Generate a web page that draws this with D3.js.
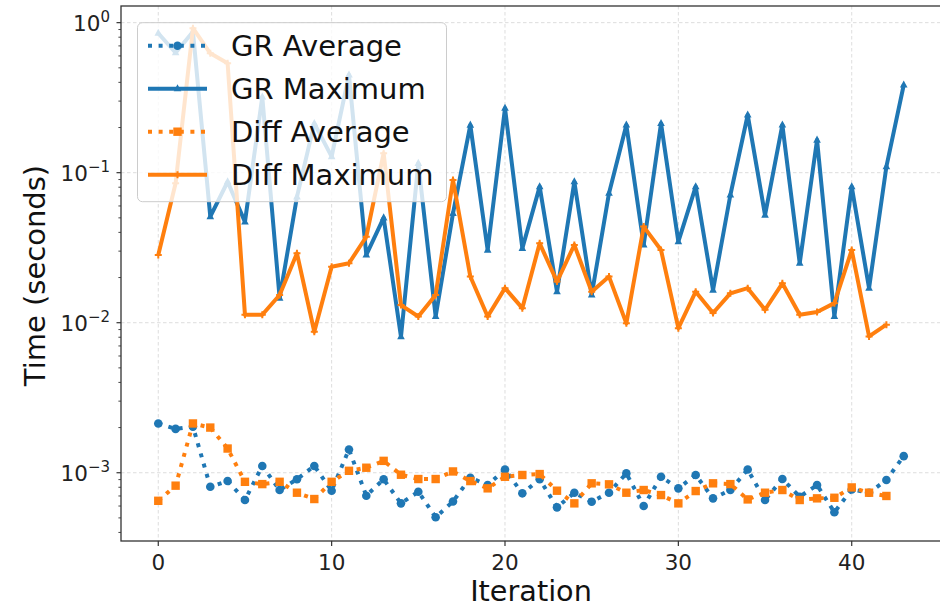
<!DOCTYPE html>
<html>
<head>
<meta charset="utf-8">
<script src="https://cdn.jsdelivr.net/npm/d3@7"></script>
<style>
  html, body { margin: 0; padding: 0; background: #fff; }
  svg { display: block; font-family: "DejaVu Sans", sans-serif; }
</style>
</head>
<body>
<svg id="chart" width="940" height="607"></svg>
<script>
// ---- data ----
const iterationsGR = d3.range(0, 44);
const iterationsDiff = d3.range(0, 43);

const grAverage = [0.00213, 0.00196, 0.00203, 0.000807, 0.00088, 0.000658, 0.00111, 0.000767, 0.000904, 0.00111,
  0.000759, 0.00143, 0.000703, 0.000904, 0.000625, 0.000747, 0.000505, 0.000643, 0.000927, 0.000828,
  0.00105, 0.000729, 0.000904, 0.000588, 0.000736, 0.000641, 0.000736, 0.00099, 0.0006, 0.00094,
  0.000787, 0.000966, 0.000675, 0.000767, 0.00105, 0.000658, 0.000908, 0.000692, 0.000828, 0.000545,
  0.000774, 0.000736, 0.000894, 0.00129];

const grMaximum = [0.85, 0.63, 0.87, 0.051, 0.087, 0.047, 0.32, 0.0146, 0.069, 0.213,
  0.128, 0.448, 0.0283, 0.05, 0.00807, 0.1155, 0.011, 0.0536, 0.2075, 0.0305,
  0.269, 0.0313, 0.0807, 0.0161, 0.087, 0.0153, 0.073, 0.208, 0.033, 0.213,
  0.0347, 0.0807, 0.0165, 0.071, 0.2425, 0.0522, 0.208, 0.0249, 0.165, 0.011,
  0.0807, 0.017, 0.1096, 0.384];

const diffAverage = [0.00065, 0.00082, 0.00213, 0.002, 0.00145, 0.00087, 0.00084, 0.00087, 0.000736, 0.000668,
  0.00087, 0.00103, 0.00108, 0.0012, 0.00097, 0.000908, 0.000908, 0.00102, 0.00088, 0.000787,
  0.00094, 0.000966, 0.00098, 0.000759, 0.000625, 0.00085, 0.000837, 0.000736, 0.000767, 0.00071,
  0.000625, 0.000755, 0.00085, 0.00084, 0.000664, 0.000736, 0.000767, 0.000658, 0.000675, 0.000681,
  0.000798, 0.000736, 0.0007];

const diffMaximum = [0.0283, 0.085, 0.918, 0.625, 0.536, 0.0113, 0.0113, 0.0153, 0.029, 0.0087,
  0.0236, 0.0249, 0.0374, 0.135, 0.0131, 0.011, 0.0153, 0.0894, 0.0203, 0.011,
  0.017, 0.0125, 0.0338, 0.0188, 0.033, 0.0161, 0.0203, 0.0099, 0.0437, 0.0305,
  0.0092, 0.0161, 0.0116, 0.0157, 0.017, 0.0122, 0.0183, 0.0113, 0.0118, 0.0135,
  0.0305, 0.0081, 0.0097];

const xTicks = [0, 10, 20, 30, 40];
const yTickExps = [-3, -2, -1, 0];
const seriesNames = ["GR Average", "GR Maximum", "Diff Average", "Diff Maximum"];

// ---- layout ----
const blue = "#1f77b4", orange = "#ff7f0e";
const L = 121, R = 941, T = 6, B = 541;
const svg = d3.select("#chart");

const x = d3.scaleLinear().domain([-2.15, 45.15]).range([L, R]);
const y = d3.scaleLog().domain([Math.pow(10, -3.455), Math.pow(10, 0.111)]).range([B, T]);

// grid
const grid = svg.append("g").attr("stroke", "#d9d9d9").attr("stroke-width", 0.9)
  .attr("stroke-dasharray", "3.5,2.5");
xTicks.forEach(t => grid.append("line").attr("x1", x(t)).attr("x2", x(t)).attr("y1", T).attr("y2", B));
yTickExps.forEach(e => grid.append("line").attr("x1", L).attr("x2", R).attr("y1", y(Math.pow(10, e))).attr("y2", y(Math.pow(10, e))));

// clip
svg.append("clipPath").attr("id", "clip").append("rect").attr("x", L).attr("y", T).attr("width", R - L).attr("height", B - T);
const plot = svg.append("g").attr("clip-path", "url(#clip)");

const lineGen = (xs, vs) => d3.line().x((d, i) => x(xs[i])).y(d => y(d))(vs);

function drawSeries(xs, vs, color, dotted, marker) {
  const g = plot.append("g");
  g.append("path").attr("d", lineGen(xs, vs)).attr("fill", "none").attr("stroke", color)
    .attr("stroke-width", 4).attr("stroke-linejoin", "round")
    .attr("stroke-dasharray", dotted ? "4,6.6" : null);
  vs.forEach((v, i) => drawMarker(g, x(xs[i]), y(v), color, marker));
}

function drawMarker(g, cx, cy, color, marker) {
  if (marker === "circle") {
    g.append("circle").attr("cx", cx).attr("cy", cy).attr("r", 4.3).attr("fill", color);
  } else if (marker === "square") {
    g.append("rect").attr("x", cx - 4.2).attr("y", cy - 4.2).attr("width", 8.4).attr("height", 8.4).attr("fill", color);
  } else if (marker === "triangle") {
    g.append("path").attr("d", `M${cx},${cy - 4.5}L${cx + 3.8},${cy + 2.6}L${cx - 3.8},${cy + 2.6}Z`).attr("fill", color);
  } else if (marker === "plus") {
    g.append("path").attr("d", `M${cx - 3.5},${cy}H${cx + 3.5}M${cx},${cy - 3.5}V${cy + 3.5}`)
      .attr("stroke", color).attr("stroke-width", 2);
  }
}

drawSeries(iterationsGR, grAverage, blue, true, "circle");
drawSeries(iterationsGR, grMaximum, blue, false, "triangle");
drawSeries(iterationsDiff, diffAverage, orange, true, "square");
drawSeries(iterationsDiff, diffMaximum, orange, false, "plus");

// spines
const sp = svg.append("g").attr("stroke", "#333").attr("stroke-width", 1.3).attr("fill", "none");
sp.append("rect").attr("x", L).attr("y", T).attr("width", R - L).attr("height", B - T);

// x axis ticks
const xa = svg.append("g");
xTicks.forEach(t => {
  xa.append("line").attr("x1", x(t)).attr("x2", x(t)).attr("y1", B).attr("y2", B + 5).attr("stroke", "#333").attr("stroke-width", 1.2);
  xa.append("text").attr("x", x(t)).attr("y", 570).attr("text-anchor", "middle").attr("font-size", 21.5).attr("fill", "#222").text(t);
});
svg.append("text").attr("x", (L + R) / 2).attr("y", 601).attr("text-anchor", "middle").attr("font-size", 28.7).attr("fill", "#111").text("Iteration");

// y axis ticks
const ya = svg.append("g");
yTickExps.forEach(e => {
  const yy = y(Math.pow(10, e));
  ya.append("line").attr("x1", L - 4.5).attr("x2", L).attr("y1", yy).attr("y2", yy).attr("stroke", "#333").attr("stroke-width", 1.2);
  const t = ya.append("text").attr("x", 110).attr("y", yy + 8).attr("text-anchor", "end").attr("font-size", 21.5).attr("fill", "#222");
  t.append("tspan").text("10");
  t.append("tspan").attr("dy", -9).attr("font-size", 15).text(e === 0 ? "0" : "\u2212" + Math.abs(e));
});
// minor ticks
[-4, -3, -2, -1, 0].forEach(e => {
  d3.range(2, 10).forEach(m => {
    const v = m * Math.pow(10, e);
    const yy = y(v);
    if (yy >= T && yy <= B) {
      ya.append("line").attr("x1", L - 2.6).attr("x2", L).attr("y1", yy).attr("y2", yy).attr("stroke", "#333").attr("stroke-width", 0.9);
    }
  });
});
svg.append("text").attr("transform", `translate(45,${(T + B) / 2 + 2}) rotate(-90)`).attr("text-anchor", "middle")
  .attr("font-size", 29).attr("fill", "#111").text("Time (seconds)");

// legend
const lg = svg.append("g");
lg.append("rect").attr("x", 137.5).attr("y", 22.7).attr("width", 309).attr("height", 179).attr("rx", 5)
  .attr("fill", "#fff").attr("fill-opacity", 0.8).attr("stroke", "#cccccc").attr("stroke-width", 1);
const legendRows = [
  { color: blue, dotted: true, marker: "circle" },
  { color: blue, dotted: false, marker: "triangle" },
  { color: orange, dotted: true, marker: "square" },
  { color: orange, dotted: false, marker: "plus" }
];
legendRows.forEach((r, i) => {
  const yy = 45.7 + i * 43;
  lg.append("line").attr("x1", 148).attr("x2", 207).attr("y1", yy).attr("y2", yy)
    .attr("stroke", r.color).attr("stroke-width", 4).attr("stroke-dasharray", r.dotted ? "4,6.6" : null);
  drawMarker(lg, 177.5, yy, r.color, r.marker);
  lg.append("text").attr("x", 231).attr("y", yy + 10).attr("font-size", 29).attr("fill", "#111").text(seriesNames[i]);
});
</script>
</body>
</html>
